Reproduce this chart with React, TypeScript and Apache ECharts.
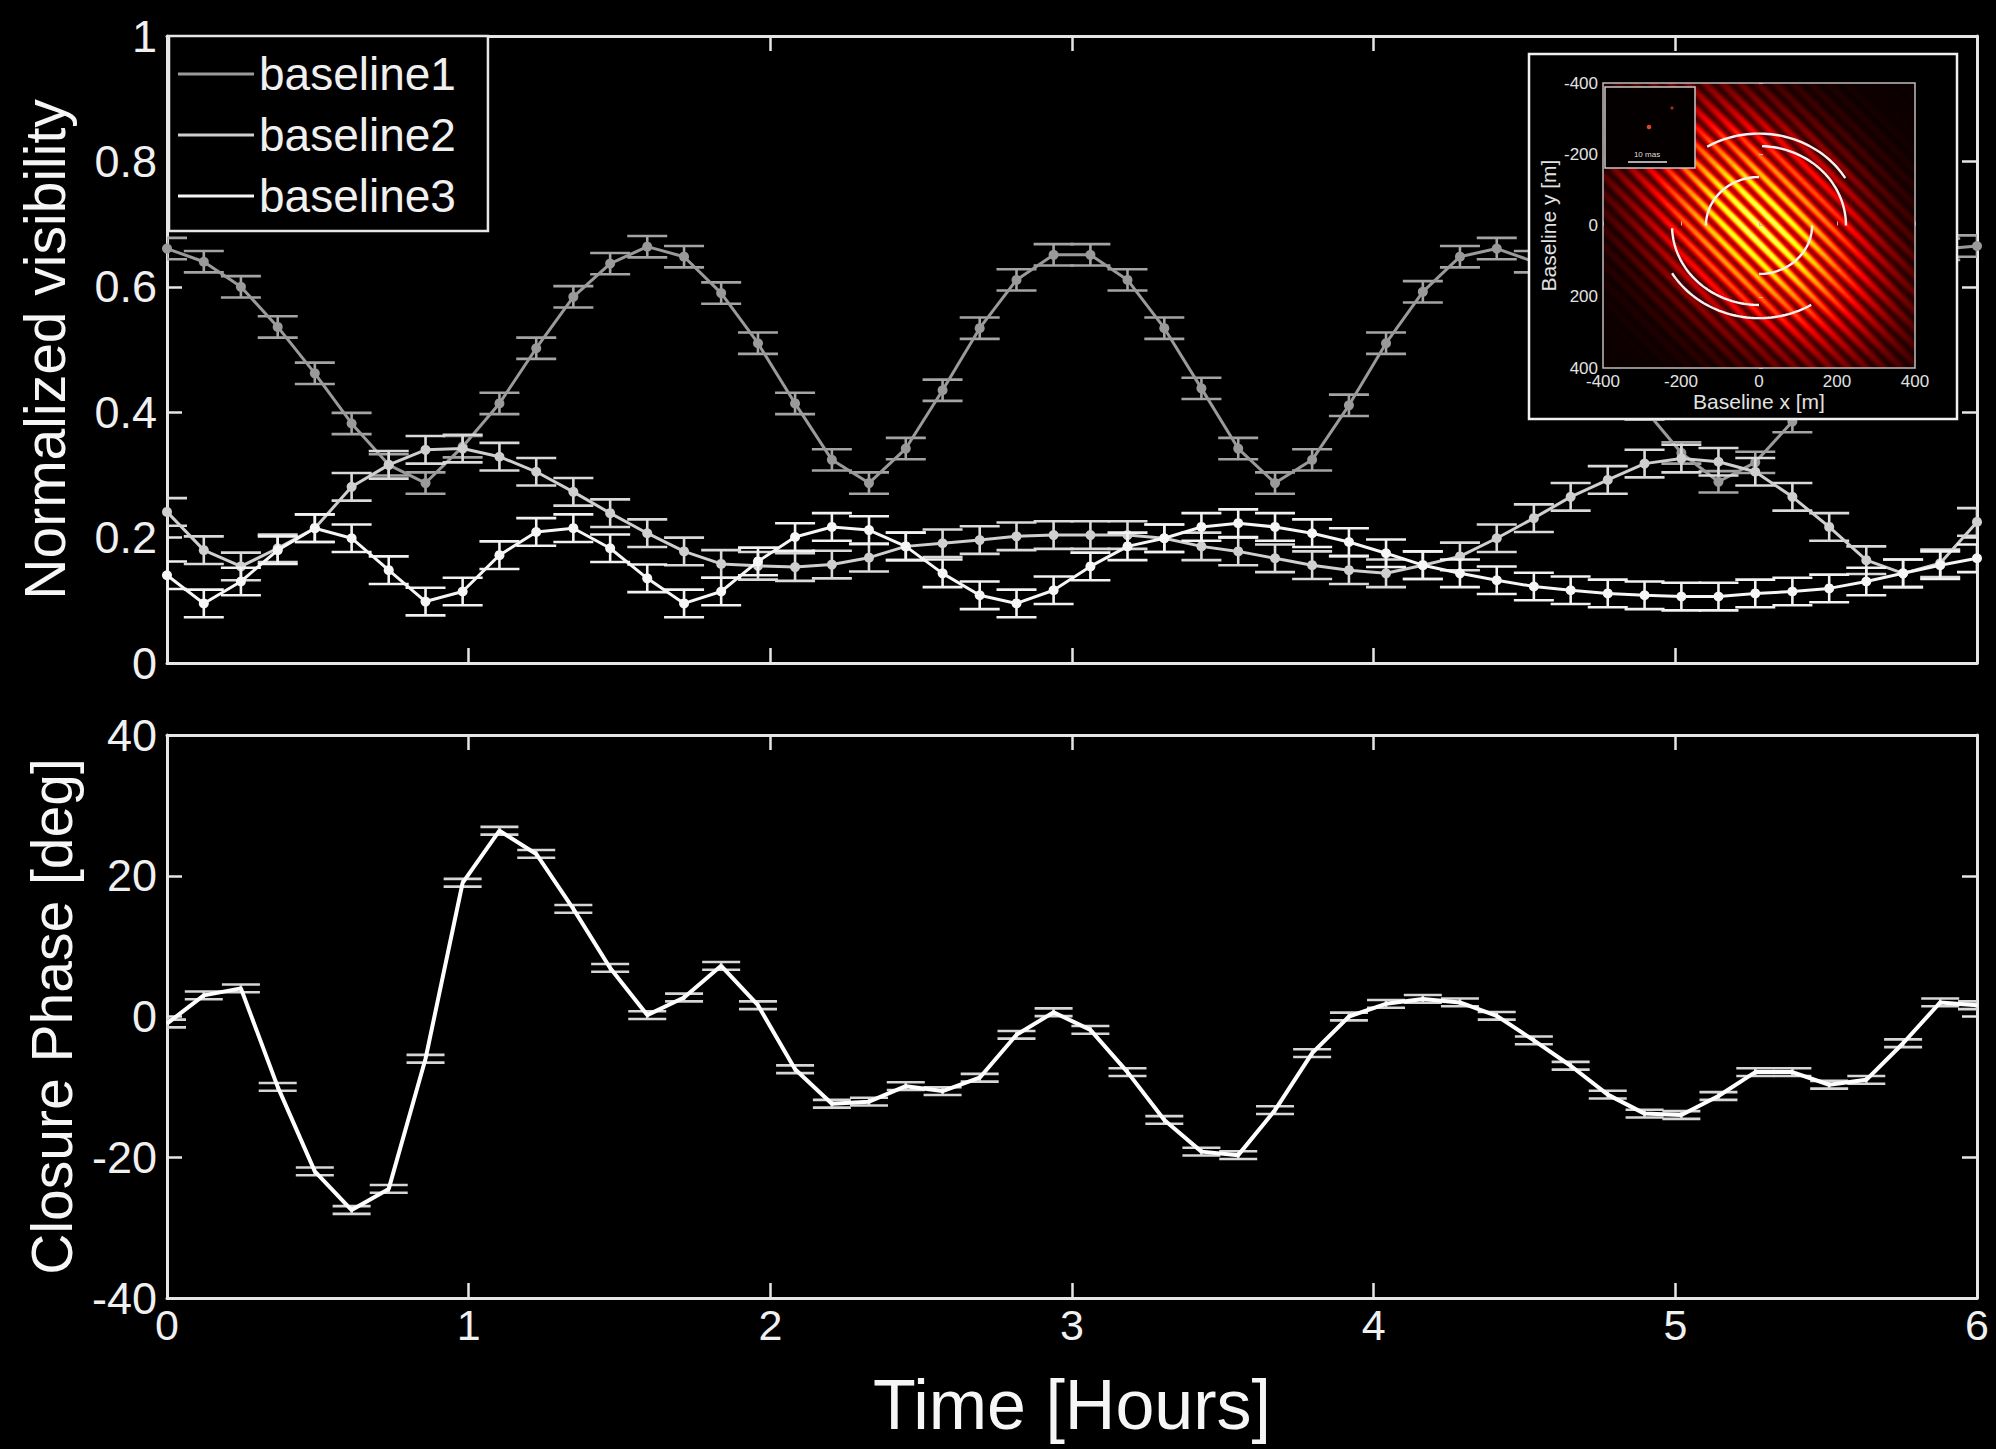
import React, { useEffect, useRef } from 'react';
import * as echarts from 'echarts';

// ---------------- data ----------------
const timeHours = [
  0, 0.122, 0.245, 0.367, 0.49, 0.612, 0.735, 0.857, 0.98, 1.102,
  1.224, 1.347, 1.469, 1.592, 1.714, 1.837, 1.959, 2.082, 2.204, 2.327,
  2.449, 2.571, 2.694, 2.816, 2.939, 3.061, 3.184, 3.306, 3.429, 3.551,
  3.673, 3.796, 3.918, 4.041, 4.163, 4.286, 4.408, 4.531, 4.653, 4.776,
  4.898, 5.02, 5.143, 5.265, 5.388, 5.51, 5.633, 5.755, 5.878, 6.0,
];

const baseline1 = [
  0.661, 0.64, 0.6, 0.536, 0.462, 0.382, 0.316, 0.287, 0.345, 0.414,
  0.502, 0.584, 0.637, 0.664, 0.648, 0.59, 0.51, 0.414, 0.324, 0.287,
  0.342, 0.435, 0.534, 0.611, 0.651, 0.651, 0.611, 0.534, 0.438, 0.342,
  0.287, 0.324, 0.411, 0.51, 0.592, 0.648, 0.661, 0.64, 0.59, 0.505,
  0.405, 0.335, 0.289, 0.32, 0.385, 0.48, 0.57, 0.63, 0.66, 0.665,
];

const baseline2 = [
  0.241, 0.18, 0.154, 0.183, 0.215, 0.281, 0.316, 0.34, 0.342, 0.329,
  0.305, 0.273, 0.239, 0.207, 0.178, 0.158, 0.155, 0.153, 0.157, 0.168,
  0.186, 0.191, 0.196, 0.202, 0.204, 0.204, 0.204, 0.199, 0.186, 0.178,
  0.167, 0.156, 0.148, 0.143, 0.156, 0.17, 0.199, 0.231, 0.265, 0.292,
  0.318, 0.326, 0.321, 0.305, 0.265, 0.217, 0.164, 0.143, 0.159, 0.225,
];

const baseline3 = [
  0.14, 0.095, 0.13, 0.18, 0.215, 0.199, 0.148, 0.098, 0.114, 0.172,
  0.209, 0.215, 0.183, 0.135, 0.095, 0.114, 0.162, 0.201, 0.217, 0.212,
  0.186, 0.143, 0.108, 0.095, 0.116, 0.154, 0.186, 0.199, 0.217, 0.223,
  0.217, 0.207, 0.193, 0.175, 0.156, 0.143, 0.132, 0.122, 0.116, 0.111,
  0.108, 0.106, 0.106, 0.111, 0.114, 0.119, 0.13, 0.143, 0.156, 0.167,
];

const visibilityError = [0.017, 0.022, 0.022];

const closurePhase = [
  -1, 3, 4, -10, -22, -27.5, -24.5, -6, 19, 26.4,
  23.1, 15.3, 6.9, 0.2, 2.7, 7.2, 1.6, -7.5, -12.4, -12.1,
  -9.9, -10.6, -8.7, -2.6, 0.6, -1.9, -7.9, -14.7, -19.2, -19.7,
  -13.3, -5.2, 0, 1.8, 2.5, 2.0, 0.1, -3.4, -7, -11.1,
  -13.8, -14, -11.3, -7.9, -7.9, -9.7, -9.0, -3.8, 2.0, 1.6,
];
const phaseError = 0.55;

const seriesNames = ['baseline1', 'baseline2', 'baseline3'];

// uv-coverage arcs of the inset (radius in m, start / end angle in degrees)
const arcRadius = [136, 136, 223, 223, 258, 260];
const arcStart = [90, 270, 0, 182, 31, 211];
const arcEnd = [180, 360, 88, 270, 122, 301];

// ---------------- styling ----------------
const FONT = '"Liberation Sans", Arial, Helvetica, sans-serif';
const TXT = '#f0f0f0';
const AXIS = '#e6e6e6';
const seriesColors = ['#9a9a9a', '#cfcfcf', '#f6f6f6'];
const capColors = ['#a4a4a4', '#dadada', '#f2f2f2'];

// fringe picture of the inset (decorative background image)
function makeFringeImage(w: number, h: number): string {
  const c = document.createElement('canvas');
  c.width = w;
  c.height = h;
  const ctx = c.getContext('2d');
  if (!ctx) return '';
  const img = ctx.createImageData(w, h);
  const cx = w / 2;
  const cy = h / 2;
  const su = 95;
  const sv = 58;
  const period = 12.5;
  const clamp = (v: number) => (v < 0 ? 0 : v > 1 ? 1 : v);
  for (let y = 0; y < h; y++) {
    for (let x = 0; x < w; x++) {
      const dx = x - cx;
      const dy = y - cy;
      const u = (dx + dy) / Math.SQRT2;
      const v = (dx - dy) / Math.SQRT2;
      const env = Math.exp(-(u * u) / (2 * su * su) - (v * v) / (2 * sv * sv));
      const cs = Math.cos((Math.PI * v) / period);
      const fr = 0.3 + 0.7 * cs * cs;
      const I = 0.86 * env * fr + 0.015;
      const r = clamp(I / 0.375);
      const g = clamp((I - 0.375) / 0.375);
      const b = clamp((I - 0.75) / 0.25);
      const k = (y * w + x) * 4;
      img.data[k] = Math.round(r * 255);
      img.data[k + 1] = Math.round(g * 255);
      img.data[k + 2] = Math.round(b * 255);
      img.data[k + 3] = 255;
    }
  }
  ctx.putImageData(img, 0, 0);
  return c.toDataURL('image/png');
}

function errorBars(color: string, capHalf: number, lw: number) {
  return (_params: any, api: any) => {
    const x = api.value(0);
    const y = api.value(1);
    const e = api.value(2);
    const hi = api.coord([x, y + e]);
    const lo = api.coord([x, y - e]);
    const st = { stroke: color, lineWidth: lw };
    return {
      type: 'group',
      children: [
        { type: 'line', shape: { x1: hi[0], y1: hi[1], x2: lo[0], y2: lo[1] }, style: st },
        { type: 'line', shape: { x1: hi[0] - capHalf, y1: hi[1], x2: hi[0] + capHalf, y2: hi[1] }, style: st },
        { type: 'line', shape: { x1: lo[0] - capHalf, y1: lo[1], x2: lo[0] + capHalf, y2: lo[1] }, style: st },
      ],
    };
  };
}

function arcItem(_params: any, api: any) {
  const r = api.value(0);
  const a0 = api.value(1);
  const a1 = api.value(2);
  const pts: number[][] = [];
  for (let a = a0; a <= a1 + 0.001; a += 2) {
    const rad = (a * Math.PI) / 180;
    pts.push(api.coord([r * Math.cos(rad), -r * Math.sin(rad)]));
  }
  return {
    type: 'polyline',
    shape: { points: pts },
    style: { stroke: '#f2f2f2', lineWidth: 2.4, fill: null },
  };
}

// main plot geometry (px)
const PLOT_LEFT = 167;
const PLOT_WIDTH = 1810;

function mainX(gridIndex: number, position: 'top' | 'bottom', labels: boolean, extra: any = {}) {
  return {
    type: 'value',
    gridIndex,
    position,
    min: 0,
    max: 6,
    interval: 1,
    axisLine: { show: true, onZero: false, lineStyle: { color: AXIS, width: 3 } },
    axisTick: { show: true, inside: true, length: 15, lineStyle: { color: AXIS, width: 2.5 } },
    axisLabel: {
      show: labels,
      color: TXT,
      fontSize: 43,
      fontFamily: FONT,
      margin: 5,
      showMinLabel: true,
      showMaxLabel: true,
    },
    splitLine: { show: false },
    ...extra,
  };
}

function mainY(gridIndex: number, position: 'left' | 'right', labels: boolean, min: number, max: number, interval: number, extra: any = {}) {
  return {
    type: 'value',
    gridIndex,
    position,
    min,
    max,
    interval,
    axisLine: { show: true, onZero: false, lineStyle: { color: AXIS, width: 3 } },
    axisTick: { show: true, inside: true, length: 15, lineStyle: { color: AXIS, width: 2.5 } },
    axisLabel: {
      show: labels,
      color: TXT,
      fontSize: 45,
      fontFamily: FONT,
      margin: 10,
      showMinLabel: true,
      showMaxLabel: true,
      formatter: (v: number) => String(Math.round(v * 10) / 10),
    },
    splitLine: { show: false },
    ...extra,
  };
}

export default function App() {
  const ref = useRef<HTMLDivElement>(null);

  useEffect(() => {
    if (!ref.current) return;
    const chart = echarts.init(ref.current, undefined, { renderer: 'svg' });
    const heatUrl = makeFringeImage(312, 285);

    const baselines = [baseline1, baseline2, baseline3];
    const series: any[] = [];
    baselines.forEach((vals, k) => {
      series.push({
        name: seriesNames[k] + ' error',
        type: 'custom',
        xAxisIndex: 0,
        yAxisIndex: 0,
        clip: true,
        z: 2 + k * 2,
        renderItem: errorBars(capColors[k], 20, 2.6),
        encode: { x: 0, y: 1 },
        data: timeHours.map((t, i) => [t, vals[i], visibilityError[k]]),
      });
      series.push({
        name: seriesNames[k],
        type: 'line',
        xAxisIndex: 0,
        yAxisIndex: 0,
        z: 3 + k * 2,
        color: seriesColors[k],
        symbol: 'circle',
        symbolSize: 10,
        showSymbol: true,
        lineStyle: { width: 3, color: seriesColors[k] },
        itemStyle: { color: seriesColors[k] },
        data: timeHours.map((t, i) => [t, vals[i]]),
      });
    });

    series.push({
      name: 'closure error',
      type: 'custom',
      xAxisIndex: 2,
      yAxisIndex: 2,
      clip: true,
      z: 2,
      renderItem: errorBars('#d6d6d6', 19, 2.6),
      encode: { x: 0, y: 1 },
      data: timeHours.map((t, i) => [t, closurePhase[i], phaseError]),
    });
    series.push({
      name: 'closure phase',
      type: 'line',
      xAxisIndex: 2,
      yAxisIndex: 2,
      z: 3,
      color: '#ffffff',
      showSymbol: false,
      symbol: 'none',
      lineStyle: { width: 4, color: '#ffffff' },
      data: timeHours.map((t, i) => [t, closurePhase[i]]),
    });

    series.push({
      name: 'uv tracks',
      type: 'custom',
      xAxisIndex: 4,
      yAxisIndex: 4,
      z: 58,
      renderItem: arcItem,
      encode: { x: 0, y: 1 },
      data: arcRadius.map((r, i) => [r, arcStart[i], arcEnd[i]]),
    });

    const option: any = {
      animation: false,
      backgroundColor: '#000000',
      grid: [
        { left: PLOT_LEFT, top: 36, width: PLOT_WIDTH, height: 627, outerBoundsMode: 'none', containLabel: false },
        { left: PLOT_LEFT, top: 735, width: PLOT_WIDTH, height: 563, outerBoundsMode: 'none', containLabel: false },
        {
          left: 1603, top: 83, width: 312, height: 285, outerBoundsMode: 'none', containLabel: false,
          show: true, borderColor: '#bdbdbd', borderWidth: 1.5, backgroundColor: 'transparent', z: 57,
        },
      ],
      legend: {
        show: true,
        orient: 'vertical',
        left: 169,
        top: 36,
        data: seriesNames.map((n) => ({ name: n, icon: 'rect' })),
        itemWidth: 76,
        itemHeight: 3,
        itemGap: 11,
        padding: [13, 32, 10, 9],
        backgroundColor: '#000000',
        borderColor: '#e6e6e6',
        borderWidth: 2.5,
        borderRadius: 0,
        z: 20,
        selectedMode: false,
        textStyle: { color: TXT, fontSize: 46, fontFamily: FONT, lineHeight: 50 },
      },
      xAxis: [
        mainX(0, 'bottom', false),
        mainX(0, 'top', false),
        mainX(1, 'bottom', true, {
          name: 'Time [Hours]',
          nameLocation: 'middle',
          nameGap: 72,
          nameTextStyle: { color: '#f6f6f6', fontSize: 70, fontFamily: FONT },
        }),
        mainX(1, 'top', false),
        {
          type: 'value',
          gridIndex: 2,
          position: 'bottom',
          min: -400,
          max: 400,
          interval: 200,
          z: 58,
          axisLine: { show: false },
          axisTick: { show: true, inside: true, length: 4, lineStyle: { color: '#bdbdbd' } },
          axisLabel: { color: '#e2e2e2', fontSize: 17, fontFamily: FONT, margin: 5, showMinLabel: true, showMaxLabel: true },
          splitLine: { show: false },
          name: 'Baseline x [m]',
          nameLocation: 'middle',
          nameGap: 23,
          nameTextStyle: { color: '#e2e2e2', fontSize: 21, fontFamily: FONT },
        },
      ],
      yAxis: [
        mainY(0, 'left', true, 0, 1, 0.2, {
          name: 'Normalized visibility',
          nameLocation: 'middle',
          nameGap: 94,
          nameTextStyle: { color: '#f6f6f6', fontSize: 57, fontFamily: FONT },
        }),
        mainY(0, 'right', false, 0, 1, 0.2),
        mainY(1, 'left', true, -40, 40, 20, {
          name: 'Closure Phase [deg]',
          nameLocation: 'middle',
          nameGap: 87,
          nameTextStyle: { color: '#f6f6f6', fontSize: 57, fontFamily: FONT },
        }),
        mainY(1, 'right', false, -40, 40, 20),
        {
          type: 'value',
          gridIndex: 2,
          position: 'left',
          inverse: true,
          min: -400,
          max: 400,
          interval: 200,
          z: 58,
          axisLine: { show: false },
          axisTick: { show: true, inside: true, length: 4, lineStyle: { color: '#bdbdbd' } },
          axisLabel: { color: '#e2e2e2', fontSize: 17, fontFamily: FONT, margin: 5, showMinLabel: true, showMaxLabel: true },
          splitLine: { show: false },
          name: 'Baseline y [m]',
          nameLocation: 'middle',
          nameGap: 44,
          nameTextStyle: { color: '#e2e2e2', fontSize: 21, fontFamily: FONT },
        },
      ],
      graphic: [
        {
          type: 'rect',
          z: 50,
          shape: { x: 1529, y: 54, width: 428, height: 365 },
          style: { fill: '#000000', stroke: '#f0f0f0', lineWidth: 2.5 },
        },
        {
          type: 'image',
          z: 51,
          style: { image: heatUrl, x: 1603, y: 83, width: 312, height: 285 },
        },
        {
          type: 'rect',
          z: 61,
          shape: { x: 1605, y: 87, width: 90, height: 81 },
          style: { fill: '#050000', stroke: '#c8c8c8', lineWidth: 1.5 },
        },
        { type: 'circle', z: 62, shape: { cx: 1649, cy: 127, r: 2.3 }, style: { fill: '#e0442c' } },
        { type: 'circle', z: 62, shape: { cx: 1672, cy: 108, r: 1.6 }, style: { fill: '#a42a1a' } },
        {
          type: 'line',
          z: 62,
          shape: { x1: 1628, y1: 162, x2: 1667, y2: 162 },
          style: { stroke: '#e4e4e4', lineWidth: 1.6 },
        },
        {
          type: 'text',
          z: 62,
          x: 1647,
          y: 154,
          style: {
            text: '10 mas',
            fill: '#dddddd',
            font: '8px ' + FONT,
            align: 'center',
            verticalAlign: 'middle',
            textAlign: 'center',
            textVerticalAlign: 'middle',
          },
        },
      ],
      series,
    };

    chart.setOption(option);
    return () => {
      chart.dispose();
    };
  }, []);

  return (
    <div
      ref={ref}
      style={{
        position: 'fixed',
        left: 0,
        top: 0,
        width: '1996px',
        height: '1449px',
        background: '#000000',
      }}
    />
  );
}
